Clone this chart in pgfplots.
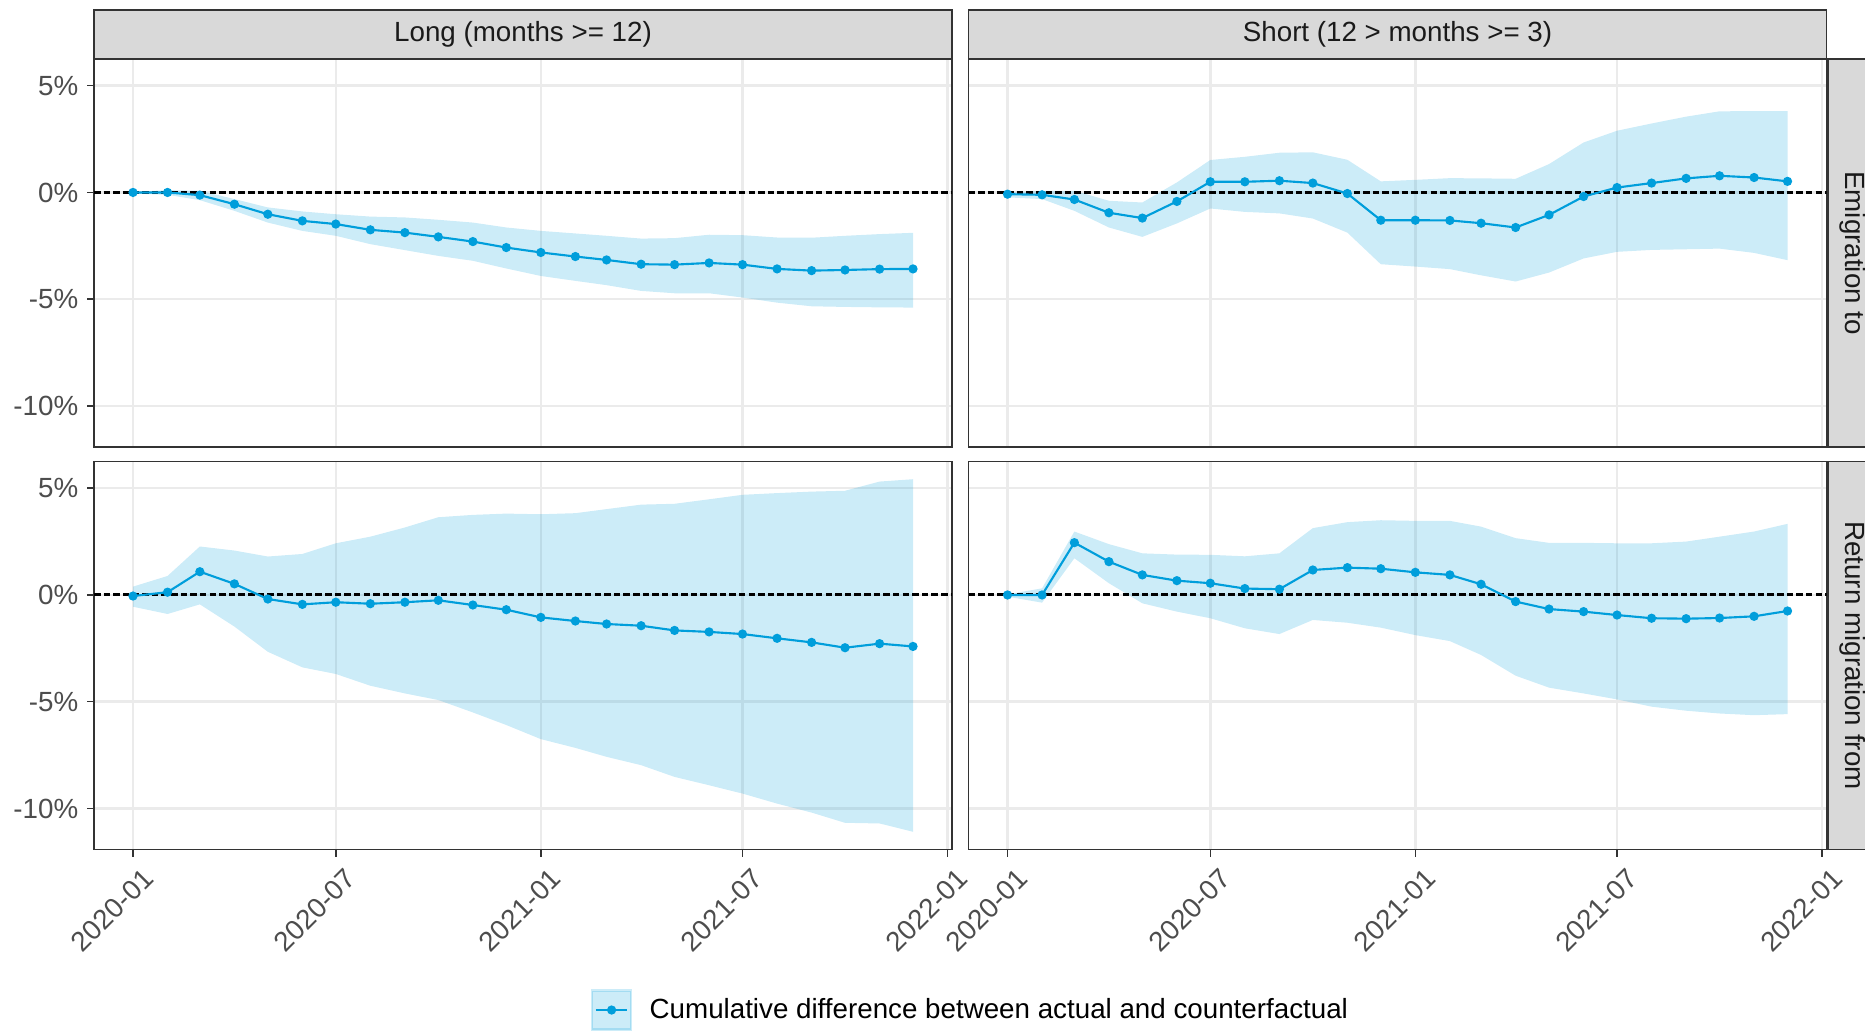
\documentclass[border=0pt]{standalone}
\usepackage{fontspec}
\setmainfont{Liberation Sans}
\usepackage{pgfplots}
\pgfplotsset{compat=1.18}
\usepgfplotslibrary{fillbetween}
\usepackage{pgfplotstable}

\definecolor{lineblue}{RGB}{0,158,219}
\definecolor{gridgray}{RGB}{235,235,235}
\definecolor{bordergray}{RGB}{51,51,51}
\definecolor{tickgray}{RGB}{77,77,77}
\definecolor{stripgray}{RGB}{217,217,217}
\definecolor{striptext}{RGB}{26,26,26}

\newcommand{\lblfont}{\fontsize{11.1}{13.3}\selectfont}

% Emigration to, Long
\pgfplotstableread{
x y lo hi
0 0 -0.05 0.02
31 0 -0.11 0.11
60 -0.125 -0.36 0.08
91 -0.55 -0.86 -0.31
121 -1.02 -1.41 -0.70
152 -1.33 -1.80 -0.89
182 -1.48 -2.03 -1.02
213 -1.75 -2.42 -1.13
244 -1.88 -2.70 -1.17
274 -2.08 -2.97 -1.28
305 -2.30 -3.20 -1.41
335 -2.58 -3.56 -1.64
366 -2.81 -3.91 -1.80
397 -3.00 -4.14 -1.92
425 -3.16 -4.34 -2.03
456 -3.36 -4.61 -2.16
486 -3.38 -4.72 -2.14
517 -3.30 -4.72 -1.98
547 -3.38 -4.92 -2.00
578 -3.58 -5.16 -2.11
609 -3.66 -5.33 -2.12
639 -3.63 -5.36 -2.03
670 -3.59 -5.38 -1.95
700 -3.58 -5.39 -1.89
}\dataTL

% Emigration to, Short
\pgfplotstableread{
x y lo hi
0 -0.08 -0.23 0.00
31 -0.11 -0.31 0.08
60 -0.33 -0.86 0.08
91 -0.95 -1.64 -0.39
121 -1.20 -2.08 -0.47
152 -0.42 -1.45 0.47
182 0.50 -0.75 1.52
213 0.50 -0.91 1.67
244 0.55 -0.98 1.86
274 0.44 -1.22 1.88
305 -0.05 -1.88 1.53
335 -1.30 -3.36 0.52
366 -1.30 -3.47 0.59
397 -1.31 -3.59 0.67
425 -1.44 -3.88 0.66
456 -1.64 -4.17 0.64
486 -1.05 -3.75 1.33
517 -0.19 -3.09 2.34
547 0.23 -2.78 2.89
578 0.44 -2.69 3.23
609 0.66 -2.66 3.55
639 0.78 -2.63 3.80
670 0.70 -2.83 3.81
700 0.52 -3.17 3.81
}\dataTR

% Return migration from, Long
\pgfplotstableread{
x y lo hi
0 -0.05 -0.55 0.39
31 0.13 -0.89 0.89
60 1.09 -0.44 2.27
91 0.52 -1.48 2.08
121 -0.19 -2.66 1.80
152 -0.44 -3.39 1.92
182 -0.34 -3.70 2.42
213 -0.41 -4.25 2.73
244 -0.34 -4.61 3.16
274 -0.25 -4.92 3.64
305 -0.47 -5.50 3.75
335 -0.69 -6.09 3.81
366 -1.05 -6.75 3.78
397 -1.22 -7.16 3.83
425 -1.36 -7.58 4.02
456 -1.44 -7.97 4.23
486 -1.66 -8.52 4.27
517 -1.73 -8.91 4.48
547 -1.83 -9.30 4.69
578 -2.03 -9.77 4.77
609 -2.22 -10.19 4.84
639 -2.47 -10.67 4.88
670 -2.28 -10.70 5.31
700 -2.41 -11.09 5.42
}\dataBL

% Return migration from, Short
\pgfplotstableread{
x y lo hi
0 0 -0.08 0.03
31 0 -0.36 0.31
60 2.45 1.72 2.97
91 1.56 0.55 2.38
121 0.94 -0.39 1.95
152 0.67 -0.78 1.89
182 0.55 -1.09 1.88
213 0.30 -1.56 1.81
244 0.27 -1.83 1.95
274 1.17 -1.17 3.13
305 1.28 -1.30 3.41
335 1.23 -1.53 3.50
366 1.06 -1.88 3.47
397 0.94 -2.16 3.47
425 0.50 -2.81 3.20
456 -0.31 -3.78 2.66
486 -0.66 -4.34 2.44
517 -0.78 -4.61 2.44
547 -0.94 -4.89 2.42
578 -1.09 -5.23 2.42
609 -1.11 -5.42 2.50
639 -1.08 -5.55 2.73
670 -1.00 -5.63 2.97
700 -0.75 -5.58 3.33
}\dataBR

\pgfplotsset{
  panel/.style={
    scale only axis, width=343.2pt, height=155.2pt,
    xmin=-35, xmax=735, ymin=-11.92, ymax=6.25,
    xtick={0,182,366,547,731}, ytick={-10,-5,0,5},
    grid=major, major grid style={gridgray, line width=1pt},
    axis line style={bordergray, line width=0.6pt},
    tick align=outside, xtick pos=left, ytick pos=left,
    major tick length=2.8pt,
    tick style={bordergray, line width=0.6pt},
    ticklabel style={font=\lblfont, text=tickgray},
    xticklabels={}, yticklabels={},
    anchor=north west,
  },
  showx/.style={
    xticklabels={2020-01,2020-07,2021-01,2021-07,2022-01},
    xticklabel style={rotate=45, anchor=north east, inner sep=0pt, xshift=-0.5pt, yshift=-5.2pt},
  },
  showy/.style={
    yticklabels={-10\%,-5\%,0\%,5\%},
    yticklabel style={anchor=east, inner sep=0pt, xshift=-3.3pt},
  },
  noxt/.style={xtick style={draw=none}},
  noyt/.style={ytick style={draw=none}},
}

\newcommand{\panelplots}[2]{%
  \addplot[draw=none, forget plot, name path=#2hi] table[x=x, y=hi] {#1};
  \addplot[draw=none, forget plot, name path=#2lo] table[x=x, y=lo] {#1};
  \addplot[fill=lineblue, fill opacity=0.2, draw=none, forget plot] fill between[of=#2hi and #2lo];
  \addplot[black, line width=1.2pt, dash pattern=on 2.6pt off 1.25pt, forget plot] coordinates {(-35,0) (735,0)};
}

\begin{document}
\begin{tikzpicture}

% top-left
\begin{axis}[panel, showy, noxt, at={(37.6pt,-23.6pt)}]
  \panelplots{\dataTL}{tl}
  \addplot[lineblue, line width=0.85pt, mark=*, mark size=1.4pt, forget plot] table[x=x, y=y] {\dataTL};
\end{axis}

% top-right
\begin{axis}[panel, noxt, noyt, at={(387.4pt,-23.6pt)}]
  \panelplots{\dataTR}{tr}
  \addplot[lineblue, line width=0.85pt, mark=*, mark size=1.4pt, forget plot] table[x=x, y=y] {\dataTR};
\end{axis}

% bottom-left
\begin{axis}[panel, showx, showy, at={(37.6pt,-184.6pt)},
  legend style={at={(0.5793,-0.4137)}, anchor=west, draw=none, fill=none,
    inner sep=0pt, outer sep=0pt, font=\lblfont, text=black, column sep=5pt},
  legend cell align=left,
  legend image code/.code={
    \fill[lineblue, opacity=0.2] (0pt,-7.8pt) rectangle (15.6pt,7.8pt);
    \draw[lineblue, line width=0.85pt] (1.5pt,0pt) -- (14.1pt,0pt);
    \fill[lineblue] (7.8pt,0pt) circle (1.4pt);
  }]
  \panelplots{\dataBL}{bl}
  \addplot[lineblue, line width=0.85pt, mark=*, mark size=1.4pt] table[x=x, y=y] {\dataBL};
  \addlegendentry{Cumulative difference between actual and counterfactual}
\end{axis}

% bottom-right
\begin{axis}[panel, showx, noyt, at={(387.4pt,-184.6pt)}]
  \panelplots{\dataBR}{br}
  \addplot[lineblue, line width=0.85pt, mark=*, mark size=1.4pt, forget plot] table[x=x, y=y] {\dataBR};
\end{axis}

% strips
\filldraw[fill=stripgray, draw=bordergray, line width=0.6pt] (37.6pt,-4pt) rectangle (380.8pt,-23.6pt);
\filldraw[fill=stripgray, draw=bordergray, line width=0.6pt] (387.4pt,-4pt) rectangle (730.6pt,-23.6pt);
\filldraw[fill=stripgray, draw=bordergray, line width=0.6pt] (731.2pt,-23.6pt) rectangle (752pt,-178.8pt);
\filldraw[fill=stripgray, draw=bordergray, line width=0.6pt] (731.2pt,-184.6pt) rectangle (752pt,-339.8pt);
\node[font=\lblfont, text=striptext, inner sep=0pt] at (209.2pt,-13.8pt) {Long (months >= 12)};
\node[font=\lblfont, text=striptext, inner sep=0pt] at (559pt,-13.8pt) {Short (12 > months >= 3)};
\node[font=\lblfont, text=striptext, inner sep=0pt, rotate=-90] at (741pt,-101.2pt) {Emigration to};
\node[font=\lblfont, text=striptext, inner sep=0pt, rotate=-90] at (741pt,-262.2pt) {Return migration from};

\pgfresetboundingbox
\path (0pt,0pt) rectangle (746pt,-412pt);
\end{tikzpicture}
\end{document}
